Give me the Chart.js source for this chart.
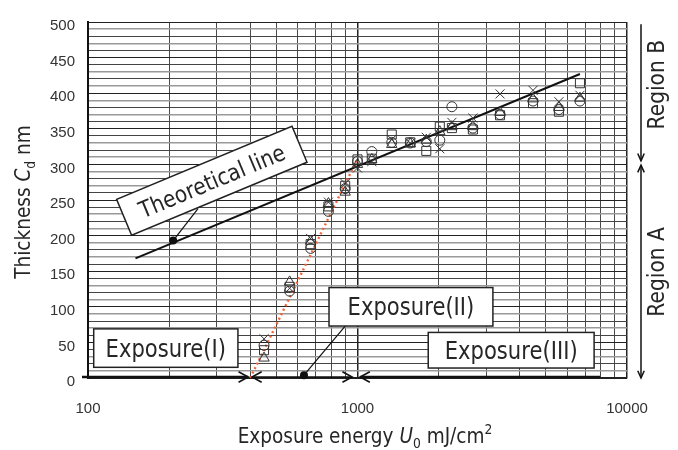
<!DOCTYPE html>
<html>
<head>
<meta charset="utf-8">
<script src="https://cdn.jsdelivr.net/npm/chart.js@4.4.1/dist/chart.umd.min.js"></script>
<style>
html,body{margin:0;padding:0;background:#fff;}
</style>
</head>
<body>
<canvas id="chart" width="678" height="450"></canvas>
<script>
// exposure energy (mJ/cm2) of each measured group
const xValues = [450, 560, 670, 780, 900, 1000, 1130, 1340, 1570, 1800, 2020, 2240, 2680, 3380, 4480, 5590, 6690];
// thickness (nm), one list per marker type
const circleVals   = [46, 122, 182, 234, 266, 304, 318, 331, 330, 332, 334, 381, 351, 370, 389, 377, 389];
const squareVals   = [39, 128, 188, 241, 270, 307, 308, 342, 331, 319, 353, 351, 349, 369, 386, 374, 414];
const triangleVals = [28, 135, 192, 245, 261, 300, 307, 328, 329, 334, 346, 353, 353, 373, 392, 380, 393];
const crossVals    = [55, 126, 196, 247, 273, 295, 304, 335, 330, 338, 322, 359, 365, 399, 404, 388, 397];

const theoryX = [150, 6690];
const theoryY = [168, 427];
const fitX = [400, 1000];
const fitY = [0, 308];

const xTickLabels = [100, 1000, 10000];
const yTickLabels = [0, 50, 100, 150, 200, 250, 300, 350, 400, 450, 500];

const FAMILY = '"DejaVu Sans", sans-serif';
const SX = 0.88;
const INK = '#262626';

function series(vals, style, r) {
  return {
    type: 'scatter',
    data: xValues.map((x, i) => ({x: x, y: vals[i]})),
    pointStyle: style,
    pointRadius: r,
    pointHoverRadius: r,
    borderColor: '#333',
    backgroundColor: 'rgba(0,0,0,0)',
    borderWidth: 1
  };
}

function richText(ctx, parts, cx, cy, size, angle) {
  ctx.save();
  ctx.translate(cx, cy);
  ctx.rotate(angle || 0);
  ctx.scale(SX, 1);
  let total = 0;
  parts.forEach(p => {
    ctx.font = (p.it ? 'italic ' : '') + Math.round(size * (p.k || 1)) + 'px ' + FAMILY;
    p.w = ctx.measureText(p.t).width;
    total += p.w;
  });
  let x = -total / 2;
  ctx.fillStyle = INK;
  ctx.textBaseline = 'alphabetic';
  ctx.textAlign = 'left';
  parts.forEach(p => {
    ctx.font = (p.it ? 'italic ' : '') + Math.round(size * (p.k || 1)) + 'px ' + FAMILY;
    ctx.fillText(p.t, x, size * 0.36 + (p.dy || 0));
    x += p.w;
  });
  ctx.restore();
}

function chevron(ctx, x, y, ang, len, spread) {
  ctx.beginPath();
  ctx.moveTo(x - len * Math.cos(ang - spread), y - len * Math.sin(ang - spread));
  ctx.lineTo(x, y);
  ctx.lineTo(x - len * Math.cos(ang + spread), y - len * Math.sin(ang + spread));
  ctx.stroke();
}

function dot(ctx, x, y) {
  ctx.beginPath();
  ctx.arc(x, y, 4, 0, Math.PI * 2);
  ctx.fillStyle = '#111';
  ctx.fill();
}

const boxes = [
  {text: 'Exposure(I)', x1: 105, x2: 360, y1: 69, y2: 15},
  {text: 'Exposure(II)', x1: 784, x2: 3180, y1: 127, y2: 73},
  {text: 'Exposure(III)', x1: 1830, x2: 7550, y1: 64, y2: 14}
];

const annotate = {
  id: 'annotate',
  afterDatasetsDraw(chart) {
    const ctx = chart.ctx;
    const xs = chart.scales.x, ys = chart.scales.y;
    const X = v => xs.getPixelForValue(v), Y = v => ys.getPixelForValue(v);
    const area = chart.chartArea;
    ctx.save();
    ctx.lineCap = 'butt';

    // pointers
    ctx.strokeStyle = '#111';
    ctx.lineWidth = 1.2;
    ctx.beginPath(); ctx.moveTo(X(207), Y(193)); ctx.lineTo(X(256), Y(238)); ctx.stroke();
    ctx.beginPath(); ctx.moveTo(X(633), Y(4)); ctx.lineTo(X(900), Y(73)); ctx.stroke();

    // exposure boxes
    boxes.forEach(b => {
      const l = X(b.x1), r = X(b.x2), t = Y(b.y1), bt = Y(b.y2);
      ctx.fillStyle = '#fff';
      ctx.fillRect(l, t, r - l, bt - t);
      ctx.strokeStyle = '#222';
      ctx.lineWidth = 1.5;
      ctx.strokeRect(l, t, r - l, bt - t);
      richText(ctx, [{t: b.text}], (l + r) / 2, (t + bt) / 2, 24);
    });

    // theoretical line box (rotated)
    const cx = X(288), cy = Y(277);
    const ang = -22.6 * Math.PI / 180;
    ctx.save();
    ctx.translate(cx, cy);
    ctx.rotate(ang);
    ctx.fillStyle = '#fff';
    ctx.fillRect(-95, -19.5, 190, 39);
    ctx.strokeStyle = '#222';
    ctx.lineWidth = 1.5;
    ctx.strokeRect(-95, -19.5, 190, 39);
    ctx.restore();
    richText(ctx, [{t: 'Theoretical line'}], cx, cy, 23, ang);

    dot(ctx, X(207), Y(193));
    dot(ctx, X(633), Y(4));

    // exposure range arrows along the x axis
    const ay = area.bottom - 1;
    ctx.strokeStyle = '#111';
    ctx.lineWidth = 2.5;
    ctx.beginPath(); ctx.moveTo(area.left - 6, ay); ctx.lineTo(X(393), ay); ctx.stroke();
    ctx.lineWidth = 1.6;
    chevron(ctx, X(393), ay, 0, 11, 0.5);
    ctx.lineWidth = 1.5;
    ctx.beginPath(); ctx.moveTo(X(406), ay); ctx.lineTo(X(955), ay); ctx.stroke();
    ctx.lineWidth = 1.6;
    chevron(ctx, X(406), ay, Math.PI, 11, 0.5);
    chevron(ctx, X(955), ay, 0, 11, 0.5);
    ctx.lineWidth = 2.5;
    ctx.beginPath(); ctx.moveTo(X(1023), ay); ctx.lineTo(X(7945), ay); ctx.stroke();
    ctx.lineWidth = 1.6;
    chevron(ctx, X(1023), ay, Math.PI, 11, 0.5);

    // region arrows on the right
    const rx = area.right + 14;
    ctx.lineWidth = 1.5;
    ctx.beginPath(); ctx.moveTo(rx, Y(497)); ctx.lineTo(rx, Y(305)); ctx.stroke();
    chevron(ctx, rx, Y(305), Math.PI / 2, 8, 0.42);
    ctx.beginPath(); ctx.moveTo(rx, Y(299)); ctx.lineTo(rx, Y(0)); ctx.stroke();
    chevron(ctx, rx, Y(299), -Math.PI / 2, 8, 0.42);
    chevron(ctx, rx, Y(0), Math.PI / 2, 8, 0.42);
    richText(ctx, [{t: 'Region B'}], area.right + 29, Y(412), 23, -Math.PI / 2);
    richText(ctx, [{t: 'Region A'}], area.right + 29, Y(149), 23, -Math.PI / 2);

    // axis titles
    richText(ctx, [
      {t: 'Exposure energy '}, {t: 'U', it: true}, {t: '0', k: 0.65, dy: 5},
      {t: ' mJ/cm'}, {t: '2', k: 0.65, dy: -9}
    ], 365, 435, 21, 0);
    richText(ctx, [
      {t: 'Thickness '}, {t: 'C', it: true}, {t: 'd', k: 0.65, dy: 5}, {t: ' nm'}
    ], 22, 202, 21, -Math.PI / 2);

    ctx.restore();
  }
};

new Chart(document.getElementById('chart'), {
  type: 'scatter',
  data: {
    datasets: [
      series(crossVals, 'crossRot', 6.4),
      series(triangleVals, 'triangle', 6),
      series(squareVals, 'rect', 6.4),
      series(circleVals, 'circle', 5),
      {
        type: 'line',
        data: theoryX.map((x, i) => ({x: x, y: theoryY[i]})),
        borderColor: '#111', borderWidth: 2, pointRadius: 0, fill: false
      },
      {
        type: 'line',
        data: fitX.map((x, i) => ({x: x, y: fitY[i]})),
        borderColor: '#f0643a', borderWidth: 2.4, borderDash: [2, 3],
        pointRadius: 0, fill: false
      }
    ]
  },
  options: {
    responsive: false,
    animation: false,
    layout: {padding: {left: 0, top: 8, right: 51, bottom: 0}},
    plugins: {legend: {display: false}, tooltip: {enabled: false}},
    scales: {
      x: {
        type: 'logarithmic',
        min: 100,
        max: 10000,
        afterFit: s => { s.height = 72; },
        afterBuildTicks: s => {
          const t = [];
          for (let d = 100; d < 10000; d *= 10) {
            for (let k = 1; k < 10; k++) t.push({value: d * k});
          }
          t.push({value: 10000});
          s.ticks = t;
        },
        grid: {
          drawTicks: false,
          color: c => (c.tick && xTickLabels.includes(c.tick.value)) ? '#222' : '#4a4a4a',
          lineWidth: c => (c.tick && xTickLabels.includes(c.tick.value)) ? 1.5 : 1
        },
        border: {color: '#222', width: 1.5},
        ticks: {
          autoSkip: false,
          maxRotation: 0,
          padding: 22,
          color: '#333',
          font: {family: '"Liberation Sans", sans-serif', size: 15},
          callback: v => xTickLabels.includes(v) ? String(v) : ''
        }
      },
      y: {
        type: 'linear',
        min: 0,
        max: 500,
        afterFit: s => { s.width = 88; },
        afterBuildTicks: s => {
          const t = [];
          for (let v = 0; v <= 500; v += 10) t.push({value: v});
          s.ticks = t;
        },
        grid: {
          drawTicks: false,
          color: c => {
            const v = c.tick ? c.tick.value : 0;
            if (v % 50 === 0) return '#222';
            return (v / 10) % 2 ? '#999' : '#444';
          },
          lineWidth: c => {
            const v = c.tick ? c.tick.value : 0;
            return (v % 50 !== 0 && (v / 10) % 2) ? 1.6 : 1;
          }
        },
        border: {color: '#111', width: 2},
        ticks: {
          autoSkip: false,
          padding: 13,
          labelOffset: 4,
          color: '#333',
          font: {family: '"Liberation Sans", sans-serif', size: 15},
          callback: v => yTickLabels.includes(v) ? String(v) : ''
        }
      }
    }
  },
  plugins: [annotate]
});
</script>
</body>
</html>
